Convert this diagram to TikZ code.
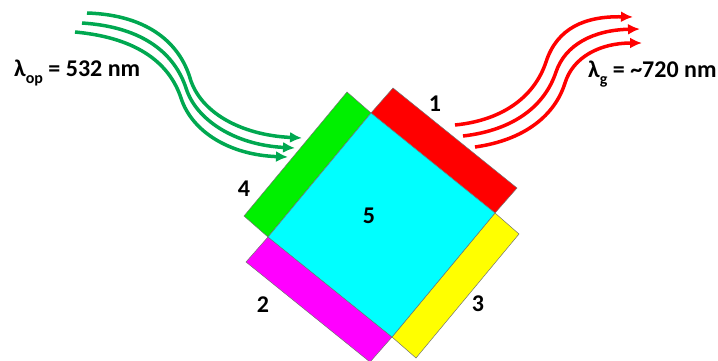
\documentclass[tikz,border=0pt]{standalone}
\usepackage{fontspec}
\setmainfont{Carlito}
\usetikzlibrary{arrows.meta,calc}
\definecolor{beamgreen}{RGB}{0,168,80}
\definecolor{barlime}{RGB}{0,240,0}
\definecolor{purecyan}{RGB}{0,255,255}
\definecolor{puremagenta}{RGB}{255,0,255}
\definecolor{pureyellow}{RGB}{255,255,0}
\definecolor{purered}{RGB}{255,0,0}
\tikzset{
  bar/.style={draw=black!55, line width=0.5pt},
  lbl/.style={font=\fontsize{24}{26}\selectfont\bfseries, inner sep=0pt},
  beam/.style={line width=3.5pt, -{Latex[length=12pt,width=11pt]}},
}
\newcommand{\mysub}[1]{\raisebox{-0.3em}{\fontsize{16}{17}\selectfont #1}}
\begin{document}
\begin{tikzpicture}[x=1pt,y=-1pt]
\useasboundingbox (0,0) rectangle (718,360);
\clip (0,0) rectangle (718,360);
% corners of the central square
\coordinate (T) at (371,113);
\coordinate (R) at (495,213);
\coordinate (B) at (392,337);
\coordinate (L) at (268,237);
% bars
\fill[purered, bar] (T) -- (R) -- ($(R)+(22,-25)$) -- ($(T)+(22,-25)$) -- cycle;
\fill[barlime, bar] (L) -- (T) -- ($(T)+(-24,-21)$) -- ($(L)+(-24,-21)$) -- cycle;
\fill[puremagenta, bar] (L) -- (B) -- ($(B)+(-22,25)$) -- ($(L)+(-22,25)$) -- cycle;
\fill[pureyellow, bar] (B) -- (R) -- ($(R)+(24,21)$) -- ($(B)+(24,21)$) -- cycle;
\fill[purecyan, bar] (T) -- (R) -- (B) -- (L) -- cycle;
% labels
\node[lbl] (n1) at (435,104) {1};
\node[lbl] (n4) at (244,189) {4};
\node[lbl] (n5) at (369,216) {5};
\node[lbl] (n2) at (263,305) {2};
\node[lbl] (n3) at (478,304) {3};
\node[lbl, anchor=base west] (lop) at (14,76) {λ\mysub{op} = 532 nm};
\node[lbl, anchor=base west] (lg) at (588,77) {λ\mysub{g} = \textasciitilde720 nm};
% green beams
\draw[beam, beamgreen] (87,13) .. controls (150,15) and (180,45) .. (190,78) .. controls (200,112) and (240,135) .. (302,138);
\draw[beam, beamgreen] (82,23) .. controls (145,27) and (175,55) .. (186,88) .. controls (196,120) and (235,145) .. (295,148);
\draw[beam, beamgreen] (75,32) .. controls (140,38) and (170,65) .. (181,98) .. controls (192,132) and (230,155) .. (288,157);
% red beams
\draw[beam, purered] (455,125) .. controls (505,120) and (535,95) .. (546,62) .. controls (557,28) and (585,16) .. (633,17);
\draw[beam, purered] (463,136) .. controls (515,130) and (545,105) .. (556,72) .. controls (565,45) and (593,30) .. (640,29);
\draw[beam, purered] (475,147) .. controls (525,140) and (555,115) .. (565,83) .. controls (573,57) and (600,43) .. (642,43);
\end{tikzpicture}
\end{document}
